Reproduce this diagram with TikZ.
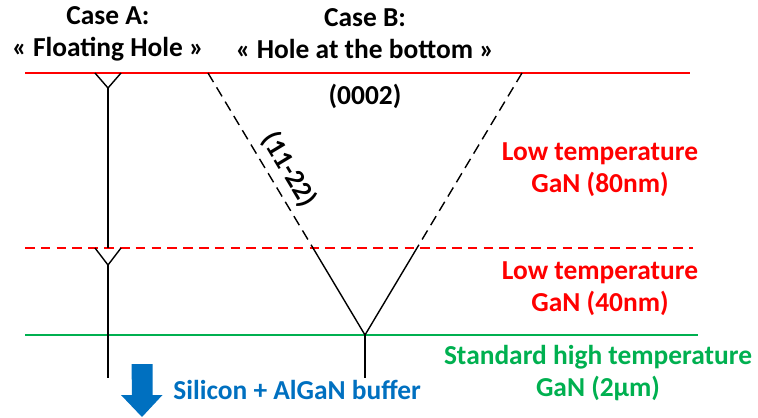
\documentclass[tikz,border=0pt]{standalone}
\usepackage{fontspec}
\setmainfont{Carlito}
\usetikzlibrary{positioning}
\definecolor{lred}{RGB}{255,0,0}
\definecolor{lgreen}{RGB}{0,176,80}
\definecolor{lblue}{RGB}{0,112,192}

\begin{document}
\begin{tikzpicture}[
    x=0.02cm, y=-0.02cm,
    txt/.style={font=\fontsize{15.6}{18.2}\selectfont\bfseries, align=center, inner sep=0pt},
    redtxt/.style={txt, text=lred},
    interface/.style={line width=0.8pt},
    hole/.style={line width=0.8pt, black},
    facet/.style={hole, dash pattern=on 6pt off 3.5pt}
]
\useasboundingbox (0,0) rectangle (758,417);

\coordinate (topL) at (25,73);
\coordinate (topR) at (690,73);
\coordinate (midL) at (25,248);
\coordinate (midR) at (693,248);
\coordinate (botL) at (25,335);
\coordinate (botR) at (698,335);

\draw[interface, lred] (topL) -- (topR);
\draw[interface, lred, dash pattern=on 5.5pt off 3.5pt] (midL) -- (midR);
\draw[interface, lgreen] (botL) -- (botR);

\node[txt] (caseA) at (108,34) {Case A:\\« Floating Hole »};
\node[txt] (caseB) at (365,34) {Case B:\\« Hole at the bottom »};
\node[txt] (plane) at (365,96) {(0002)};

\node[redtxt] (lt80) at (600,170) {Low temperature\\GaN (80nm)};
\node[redtxt] (lt40) at (600,289) {Low temperature\\GaN (40nm)};
\node[txt, text=lgreen] (ht) at (598,373) {Standard high temperature\\GaN (2µm)};

\coordinate (a1l) at (95,73);
\coordinate (a1r) at (121,73);
\coordinate (a1) at (108,88);
\coordinate (a1e) at (108,248);
\coordinate (a2l) at (95,248);
\coordinate (a2r) at (121,248);
\coordinate (a2) at (108,265);
\coordinate (aend) at (108,378);

\draw[hole] (a1l) -- (a1) -- (a1r);
\draw[hole] (a1) -- (a1e);
\draw[hole] (a2l) -- (a2) -- (a2r);
\draw[hole] (a2) -- (aend);

\coordinate (bl) at (208,73);
\coordinate (bml) at (313,248);
\coordinate (br) at (522,73);
\coordinate (bmr) at (417,248);
\coordinate (bv) at (365,335);
\coordinate (bend) at (365,378);

\draw[facet] (bl) -- node[txt, above=4pt, sloped, pos=0.61] {(11-22)} (bml);
\draw[facet] (br) -- (bmr);
\draw[hole] (bml) -- (bv) -- (bmr);
\draw[hole] (bv) -- (bend);

\coordinate (arr) at (142,364);
\fill[lblue] (arr) ++(-10.5,0) -- ++(21,0) -- ++(0,31) -- ++(10,0)
    -- (142,417) -- ++(-21,-22) -- ++(11,0) -- cycle;
\node[txt, text=lblue, anchor=west] (buffer) at (173,390) {Silicon + AlGaN buffer};

\end{tikzpicture}
\end{document}
